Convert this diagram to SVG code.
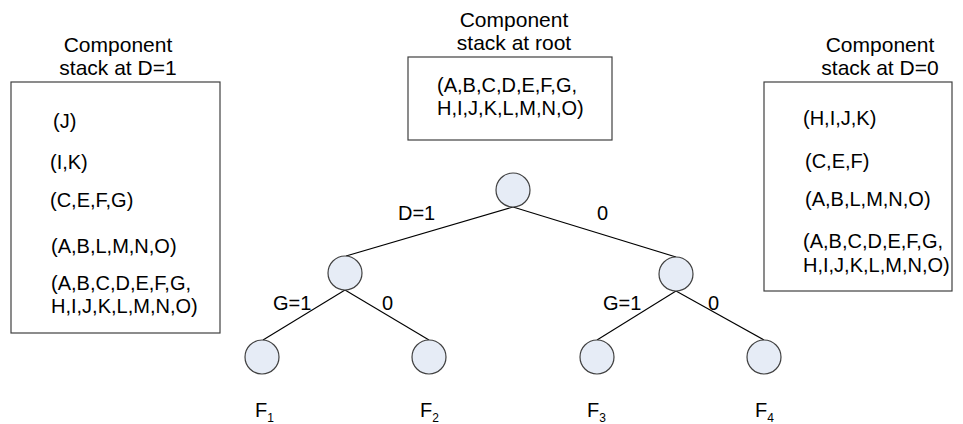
<svg xmlns="http://www.w3.org/2000/svg" width="963" height="424" viewBox="0 0 963 424">
<style>
text{font-family:"Liberation Sans",Arial,sans-serif;font-size:20px;fill:#000}
.t{font-size:21px;text-anchor:middle}
.box{fill:#fff;stroke:#404040;stroke-width:1.2}
.node{fill:#e6ecf6;stroke:#404040;stroke-width:1.2}
.edge{stroke:#000;stroke-width:1.1;fill:none}
.sub{font-size:12px}
</style>
<rect width="963" height="424" fill="#fff"/>
<g id="stack-d1">
<text class="t" x="118" y="52">Component</text>
<text class="t" x="118" y="75">stack at D=1</text>
<rect class="box" x="11" y="82" width="209" height="251"/>
<text x="53" y="128">(J)</text>
<text x="50" y="169">(I,K)</text>
<text x="50" y="207">(C,E,F,G)</text>
<text x="51" y="253">(A,B,L,M,N,O)</text>
<text x="51" y="290">(A,B,C,D,E,F,G,</text>
<text x="51" y="313">H,I,J,K,L,M,N,O)</text>
</g>
<g id="stack-root">
<text class="t" x="514" y="27">Component</text>
<text class="t" x="514" y="50">stack at root</text>
<rect class="box" x="408" y="57" width="204" height="83"/>
<text x="437" y="92">(A,B,C,D,E,F,G,</text>
<text x="437" y="115">H,I,J,K,L,M,N,O)</text>
</g>
<g id="stack-d0">
<text class="t" x="880" y="52">Component</text>
<text class="t" x="880" y="75">stack at D=0</text>
<rect class="box" x="764" y="82" width="188" height="209"/>
<text x="803" y="125">(H,I,J,K)</text>
<text x="805" y="168">(C,E,F)</text>
<text x="805" y="206">(A,B,L,M,N,O)</text>
<text x="803" y="248">(A,B,C,D,E,F,G,</text>
<text x="803" y="272">H,I,J,K,L,M,N,O)</text>
</g>
<g id="connectors">
<line class="edge" x1="513" y1="207" x2="346" y2="256"/>
<line class="edge" x1="513" y1="207" x2="676" y2="257"/>
<line class="edge" x1="345" y1="290" x2="263" y2="340"/>
<line class="edge" x1="345" y1="290" x2="429" y2="340"/>
<line class="edge" x1="676" y1="291" x2="597" y2="340"/>
<line class="edge" x1="676" y1="291" x2="764" y2="340"/>
<text x="398" y="220">D=1</text>
<text x="597" y="220">0</text>
<text x="273" y="310">G=1</text>
<text x="382" y="310">0</text>
<text x="603" y="310">G=1</text>
<text x="708" y="310">0</text>
</g>
<g id="root"><circle class="node" cx="513" cy="190" r="17"/></g>
<g id="n-d1"><circle class="node" cx="345" cy="273" r="17"/></g>
<g id="n-d0"><circle class="node" cx="676" cy="274" r="17"/></g>
<g id="leaf-f1"><circle class="node" cx="262" cy="357" r="17"/><text x="255" y="417">F<tspan class="sub" dy="5">1</tspan></text></g>
<g id="leaf-f2"><circle class="node" cx="429" cy="357" r="17"/><text x="420" y="417">F<tspan class="sub" dy="5">2</tspan></text></g>
<g id="leaf-f3"><circle class="node" cx="597" cy="357" r="17"/><text x="587" y="417">F<tspan class="sub" dy="5">3</tspan></text></g>
<g id="leaf-f4"><circle class="node" cx="764" cy="357" r="17"/><text x="755" y="417">F<tspan class="sub" dy="5">4</tspan></text></g>
</svg>
